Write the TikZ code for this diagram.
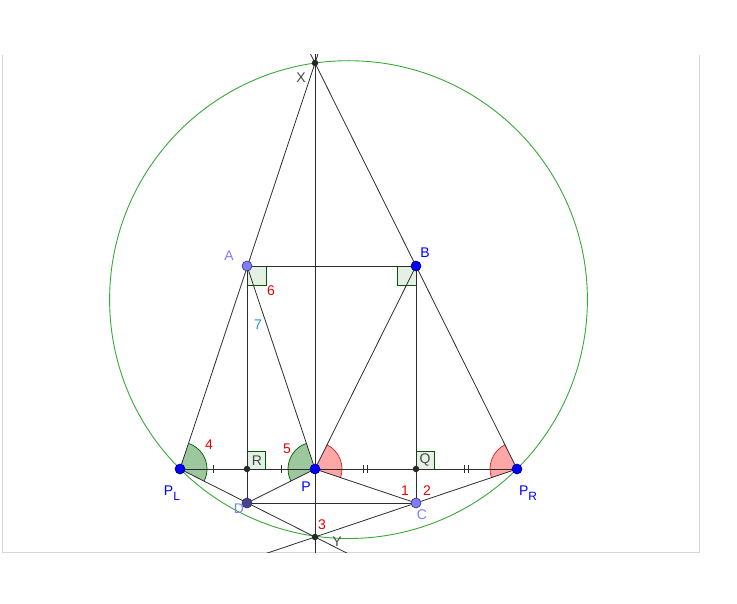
\documentclass[tikz,border=0pt]{standalone}
\usepackage{fontspec}
\setmainfont{Liberation Sans}
\usepackage{xcolor}
\usetikzlibrary{calc,angles}
\definecolor{ggline}{RGB}{45,45,45}
\definecolor{ggframe}{RGB}{215,215,215}
\definecolor{ggcircle}{RGB}{56,168,56}
\definecolor{ptblue}{RGB}{0,0,255}
\definecolor{ptlight}{RGB}{125,125,255}
\definecolor{ptdark}{RGB}{40,40,40}
\definecolor{labred}{RGB}{235,0,0}
\definecolor{labcyan}{RGB}{25,155,210}
\definecolor{labgray}{RGB}{70,70,70}
\definecolor{angreen}{RGB}{0,110,0}
\definecolor{anred}{RGB}{220,40,40}
\tikzstyle{seg} = [draw=ggline, line width=0.8pt]
\tikzstyle{rightbox} = [draw=angreen!80!black, fill=angreen!10, line width=0.75pt]
\tikzstyle{greenang} = [draw=angreen!90!black, fill=angreen!45, fill opacity=0.85, line width=0.75pt, angle radius=27pt]
\tikzstyle{redang} = [draw=anred, fill=red!35, line width=0.75pt, angle radius=27pt]
\tikzstyle{bluept} = [circle, fill=ptblue, draw=ptblue!45!black, line width=0.6pt, inner sep=0pt, minimum size=10pt]
\tikzstyle{lightpt} = [circle, fill=ptlight, draw=ptlight!40!black, line width=0.6pt, inner sep=0pt, minimum size=10pt]
\tikzstyle{darkpt} = [circle, fill=ptdark, inner sep=0pt, minimum size=6.5pt]
\tikzstyle{lab} = [font=\fontsize{14}{16}\selectfont, inner sep=0pt]
\newcommand{\lowsub}[1]{\raisebox{-5pt}{\fontsize{12}{12}\selectfont #1}}

\begin{document}
\begin{tikzpicture}[x=1pt,y=1pt]
\useasboundingbox (0,0) rectangle (737,-604);
\draw [ggframe, line width=0.8pt] (2.5,-55) -- (2.5,-552) -- (699,-552) -- (699,-55);

\coordinate (X) at (315,-63);
\coordinate (A) at (247,-266);
\coordinate (B) at (416,-266);
\coordinate (PL) at (180,-469);
\coordinate (R) at (247,-469);
\coordinate (P) at (315,-469);
\coordinate (Q) at (416,-469);
\coordinate (PR) at (517,-469);
\coordinate (D) at (247,-503);
\coordinate (C) at (416,-503);
\coordinate (Y) at (315,-537);
\coordinate (O) at (348.5,-299.6);

% angle sectors
\pic [greenang] {angle = D--PL--A};
\pic [greenang] {angle = A--P--D};
\pic [redang] {angle = C--P--B};
\pic [redang] {angle = B--PR--C};

% right angle marks
\draw [rightbox] (A) rectangle ++(19,-19);
\draw [rightbox] (B) rectangle ++(-19,-19);
\draw [rightbox] (R) rectangle ++(18,18);
\draw [rightbox] (Q) rectangle ++(18,18);

\draw [ggcircle, line width=0.9pt] (O) circle [radius=238.9];

\begin{scope}
\clip (2.5,-55) rectangle (699,-552);
\draw [seg] (PL) -- ($(PL)!1.05!(X)$);
\draw [seg] (PR) -- ($(PR)!1.05!(X)$);
\draw [seg] ($(X)+(0,20)$) -- ($(Y)+(0,-30)$);
\draw [seg] (PL) -- ($(PL)!1.3!(Y)$);
\draw [seg] (PR) -- ($(PR)!1.3!(Y)$);
\end{scope}
\draw [seg] (A) -- (B);
\draw [seg] (A) -- (D);
\draw [seg] (B) -- (C);
\draw [seg] (A) -- (P);
\draw [seg] (B) -- (P);
\draw [seg] (PL) -- (PR);
\draw [seg] (D) -- (C);
\draw [seg] (D) -- (P);
\draw [seg] (C) -- (P);

% equal length ticks
\draw [seg] ($(PL)!0.5!(R)+(0,4)$) -- ++(0,-8);
\draw [seg] ($(R)!0.5!(P)+(0,4)$) -- ++(0,-8);
\draw [seg] ($(P)!0.5!(Q)+(-2,4)$) -- ++(0,-8);
\draw [seg] ($(P)!0.5!(Q)+(2,4)$) -- ++(0,-8);
\draw [seg] ($(Q)!0.5!(PR)+(-2,4)$) -- ++(0,-8);
\draw [seg] ($(Q)!0.5!(PR)+(2,4)$) -- ++(0,-8);

% points
\node [darkpt] (ptX) at (X) {};
\node [darkpt] (ptY) at (Y) {};
\node [darkpt] (ptR) at (R) {};
\node [darkpt] (ptQ) at (Q) {};
\node [lightpt] (ptA) at (A) {};
\node [bluept] (ptB) at (B) {};
\node [bluept] (ptPL) at (PL) {};
\node [bluept] (ptP) at (P) {};
\node [bluept] (ptPR) at (PR) {};
\node [lightpt, fill=ptlight!55!black] (ptD) at (D) {};
\node [lightpt] (ptC) at (C) {};

% labels
\node [lab, labgray] (labX) at (301,-78) {X};
\node [lab, labgray] (labY) at (337,-542) {Y};
\node [lab, ptlight] (labA) at (229,-256) {A};
\node [lab, ptblue] (labB) at (425,-253) {B};
\node [lab, ptblue] (labPL) at (172,-493) {P\lowsub{L}};
\node [lab, ptblue] (labP) at (306,-487) {P};
\node [lab, ptblue] (labPR) at (528,-493) {P\lowsub{R}};
\node [lab, ptlight] (labC) at (422,-515) {C};
\node [lab, ptlight] (labD) at (239,-509) {D};
\node [lab, labgray] (labR) at (257,-461) {R};
\node [lab, labgray] (labQ) at (425,-460) {Q};
\node [lab, labred] (lab1) at (405,-491) {1};
\node [lab, labred] (lab2) at (427,-491) {2};
\node [lab, labred] (lab3) at (322,-525) {3};
\node [lab, labred] (lab4) at (209,-445) {4};
\node [lab, labred] (lab5) at (287,-449) {5};
\node [lab, labred] (lab6) at (271,-291) {6};
\node [lab, labcyan] (lab7) at (258,-325) {7};
\end{tikzpicture}
\end{document}
